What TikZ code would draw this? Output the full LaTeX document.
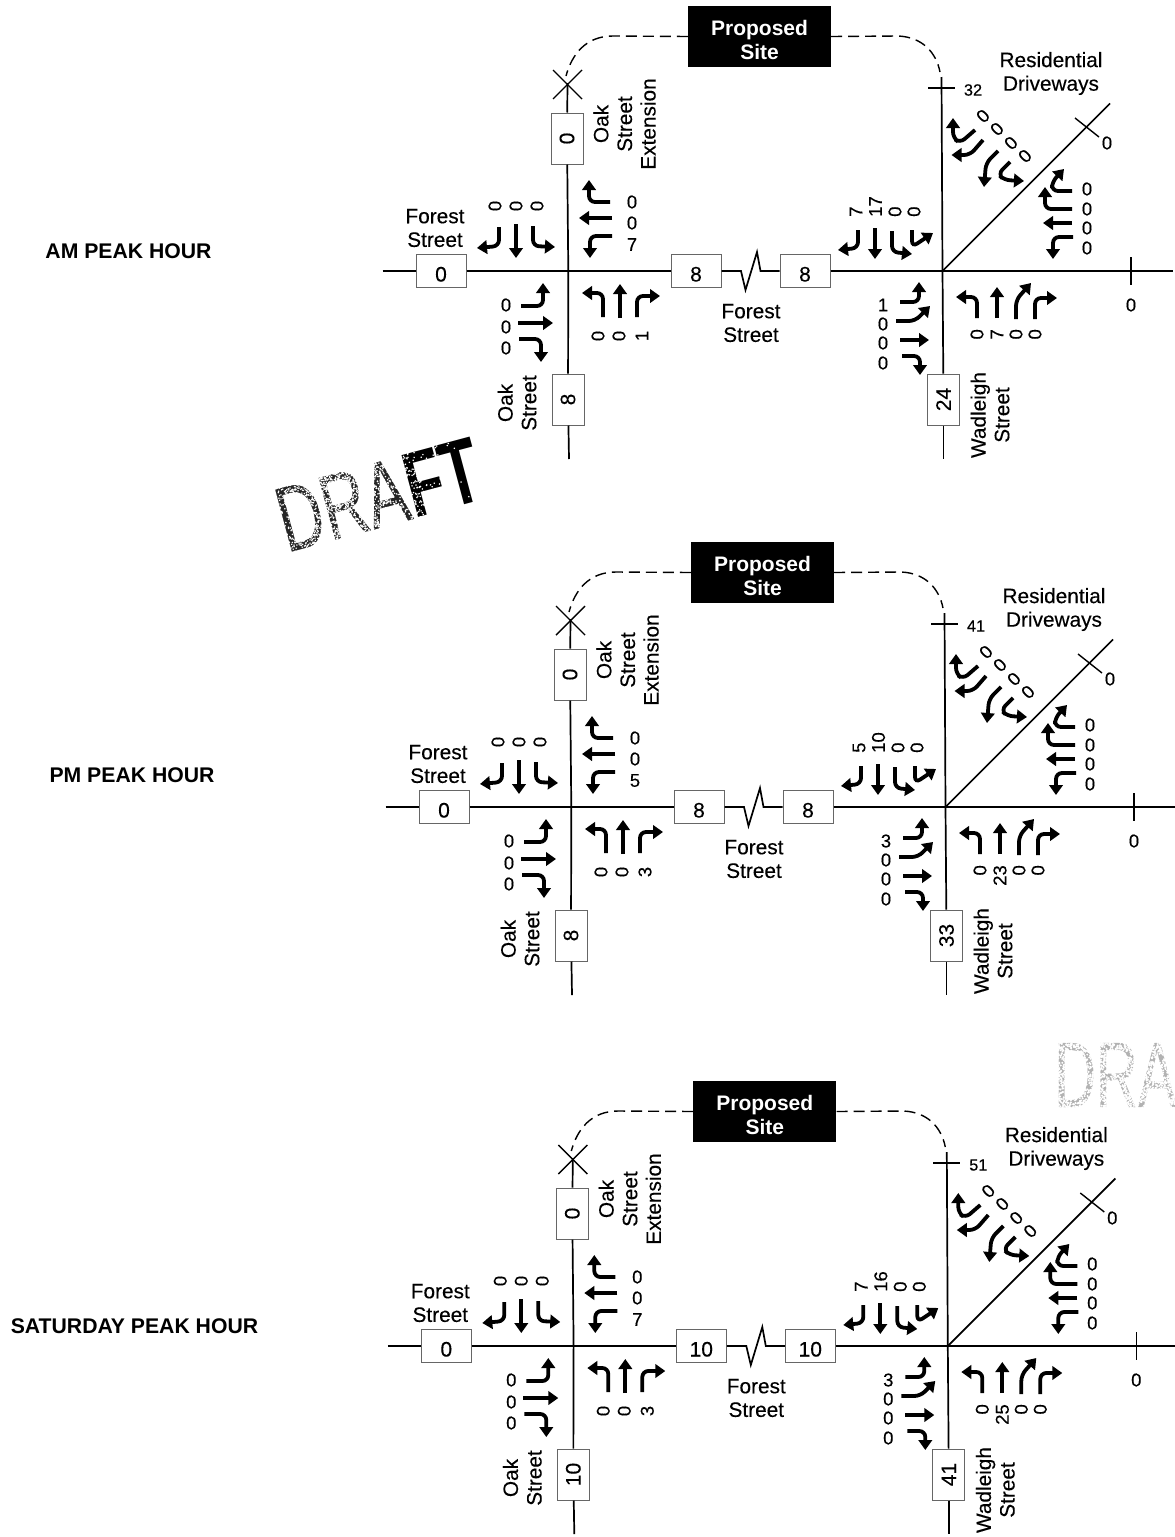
\documentclass[tikz,border=0pt]{standalone}
\usepackage{fontspec}
\setmainfont{Liberation Sans}[FakeBold=0.25,BoldFeatures={FakeBold=0}]
\usetikzlibrary{arrows.meta}
\tikzset{
  road/.style={line width=1.7pt,black},
  thin tick/.style={line width=1.4pt,black},
  site link/.style={line width=1.4pt,dash pattern=on 11pt off 6pt,black},
  mv/.style={line width=3.8pt,rounded corners=6pt,-{Triangle[length=10pt,width=13.5pt]}},
  hbox/.style={draw=black!60,line width=1pt,fill=white,minimum width=50pt,minimum height=33pt,inner sep=0pt,font=\fontsize{21}{24}\selectfont},
  vbox/.style={hbox,rotate=90,minimum width=51pt,minimum height=32pt},
  sitebox/.style={fill=black,text=white,minimum width=143pt,minimum height=61pt,inner sep=0pt,align=center,font=\bfseries\fontsize{21}{24}\selectfont},
  lab/.style={inner sep=0pt,align=center,font=\fontsize{20.8}{23.6}\selectfont},
  vlab/.style={lab,rotate=90},
  num/.style={inner sep=0pt,font=\fontsize{18.5}{20}\selectfont},
  rnum/.style={num,rotate=90},
  dnum/.style={num,rotate=45},
  smallnum/.style={inner sep=0pt,font=\fontsize{16.3}{20}\selectfont},
  peak/.style={inner sep=0pt,font=\bfseries\fontsize{21.2}{24}\selectfont},
  stamp/.style={inner sep=0pt,font=\fontsize{93}{100}\selectfont,xscale=.67},
}
\newcommand\boxnum[1]{\smash{\raisebox{-10.5pt}{#1}}}
% #1 prefix, #2 dx, #3 dy, #4 middle boxes, #5 Oak Street box, #6 Wadleigh box, #7 north tick, #8 east/north right-turn, #9 south/west count
\newcommand\panel[9]{%
\begin{scope}[shift={(#2,#3)},name prefix=#1-]
  \coordinate (iL) at (568.3,271);
  \coordinate (iR) at (942.5,271);
  \coordinate (wEnd) at (382.5,271);
  \coordinate (eEnd) at (1173,271);
  \coordinate (nL) at (567.5,83);
  \coordinate (sL) at (569,459);
  \coordinate (nR) at (941.5,77);
  \coordinate (sR) at (943.5,459);
  \coordinate (diagEnd) at (1110,103.5);
  \node[sitebox] (site) at (759.5,36.5) {\rule{0pt}{23pt}Proposed\\Site};
  \node[hbox] (bW) at (441,271) {\boxnum{0}};
  \node[hbox] (bM) at (696,271) {\boxnum{#4}};
  \node[hbox] (bE) at (805,271) {\boxnum{#4}};
  \node[vbox] (bN) at (567,138.5) {0};
  \node[vbox] (bS) at (568,399.5) {#5};
  \node[vbox] (bWad) at (943.5,399.5) {#6};
  % roads
  \draw[road] (wEnd) -- (bW);
  \draw[road] (bW) -- (iL) -- (bM);
  \draw[road] (bM) -- (741,271) -- (745.5,290) -- (757,252) -- (760.5,271) -- (bE);
  \draw[road] (bE) -- (iR) -- (eEnd);
  \draw[road] (nL) -- (bN);
  \draw[road] (bN) -- (iL) -- (bS);
  \draw[road] (bS) -- (sL);
  \draw[road] (nR) -- (iR) -- (bWad);
  \draw[road] (bWad) -- (sR);
  \draw[road] (iR) -- (diagEnd);
  % ticks
  \draw[thin tick] (553,70) -- (582,99);
  \draw[thin tick] (582,70) -- (553,99);
  \draw[thin tick] (928,88) -- (955,88);
  \draw[thin tick] (1075,118) -- (1099,137);
  \draw[thin tick] (1131,257) -- (1131,285);
  % site links
  \draw[site link] (site.west) -- (613,36) .. controls (586,36) and (572,54) .. (566,76);
  \draw[site link] (site.east) -- (898,36) .. controls (922,37) and (936,52) .. (940,72);
  % street labels
  \node[vlab] (oakExt) at (624.5,124) {Oak\\Street\\Extension};
  \node[lab] (forL) at (435,228) {Forest\\Street};
  \node[lab] (forM) at (751,323) {Forest\\Street};
  \node[vlab] (oak) at (517,403) {Oak\\Street};
  \node[vlab] (wad) at (990,415) {Wadleigh\\Street};
  \node[lab] (res) at (1051,73.5) {Residential\\Driveways};
  \node[smallnum] (tN) at (973,90) {#7};
  \node[num] (tD) at (1107,143) {0};
  \node[num] (tE) at (1131,305) {0};
  % Oak / Forest: north approach
  \draw[mv] (499,227) -- (499,246) -- (477,248);
  \draw[mv] (516,224) -- (516,258);
  \draw[mv] (533,226) -- (533,246) -- (555,247);
  \node[rnum] (a1) at (495,206) {0};
  \node[rnum] (a2) at (516,206) {0};
  \node[rnum] (a3) at (537,206) {0};
  % east approach
  \draw[mv] (610,202) -- (589,202) -- (589,180);
  \draw[mv] (612,218) -- (579,218);
  \draw[mv] (612,236) -- (590,236) -- (590,258);
  \node[num] (b1) at (632,202) {0};
  \node[num] (b2) at (632,223) {0};
  \node[num] (b3) at (632,244.5) {#8};
  % west approach
  \draw[mv] (521,306) -- (543,306) -- (543,283);
  \draw[mv] (518,323) -- (553,323);
  \draw[mv] (519,339) -- (541,339) -- (541,362);
  \node[num] (c1) at (506,305) {0};
  \node[num] (c2) at (506,327) {0};
  \node[num] (c3) at (506,348) {0};
  % south approach
  \draw[mv] (603,317) -- (603,293) -- (582,293);
  \draw[mv] (620,318) -- (620,284);
  \draw[mv] (637,317) -- (637,296) -- (660,296);
  \node[rnum] (d1) at (598,336) {0};
  \node[rnum] (d2) at (619,336) {0};
  \node[rnum] (d3) at (642,336) {#9};
  % Wadleigh / Forest: north approach
  \draw[mv] (858,230) -- (858,248) -- (838,250);
  \draw[mv] (875,228) -- (875,259);
  \draw[mv] (892,231) -- (892,252) -- (912,254);
  \draw[mv] (912,230) -- (912,247) -- (933,233);
  \node[rnum,anchor=west] (e1) at (856,217) {#8};
  \node[rnum,anchor=west] (e2) at (875.5,217) {\NThru};
  \node[rnum,anchor=west] (e3) at (895,217) {0};
  \node[rnum,anchor=west] (e4) at (914,217) {0};
  % west approach
  \draw[mv] (900,302) -- (919,302) -- (919,282);
  \draw[mv] (896,321) -- (915,321) -- (930,306);
  \draw[mv] (900,340) -- (929,340);
  \draw[mv] (902,356) -- (920,356) -- (920,375);
  \node[num] (f1) at (883,305) {#9};
  \node[num] (f2) at (883,324) {0};
  \node[num] (f3) at (883,343) {0};
  \node[num] (f4) at (883,363) {0};
  % south approach
  \draw[mv] (977,318) -- (977,297) -- (956,297);
  \draw[mv] (997,318) -- (997,287);
  \draw[mv] (1016,319) -- (1016,300) -- (1031,283);
  \draw[mv] (1035,319) -- (1035,298) -- (1057,298);
  \node[rnum,anchor=east] (g1) at (977,329) {0};
  \node[rnum,anchor=east] (g2) at (997,329) {\SThru};
  \node[rnum,anchor=east] (g3) at (1016,329) {0};
  \node[rnum,anchor=east] (g4) at (1035,329) {0};
  % east approach
  \draw[mv] (1072,191) -- (1052,191) -- (1052,182) -- (1064,169);
  \draw[mv] (1072,209) -- (1045,209) -- (1045,187);
  \draw[mv] (1072,223) -- (1043,223);
  \draw[mv] (1073,237) -- (1053,237) -- (1053,259);
  \node[num] (h1) at (1087,189) {0};
  \node[num] (h2) at (1087,209) {0};
  \node[num] (h3) at (1087,228) {0};
  \node[num] (h4) at (1087,248) {0};
  % driveway approach
  \draw[mv] (975,130) -- (960,143) -- (953,138) -- (953,118);
  \draw[mv] (983,140) -- (970,155) -- (951.5,155);
  \draw[mv] (998,151) -- (986,163) -- (984,187);
  \draw[mv] (1010,162) -- (998,174) -- (1004,180) -- (1024,181);
  \node[dnum] (k1) at (983,116) {0};
  \node[dnum] (k2) at (997,129) {0};
  \node[dnum] (k3) at (1011,143) {0};
  \node[dnum] (k4) at (1025,156) {0};
\end{scope}}
\begin{document}
\begin{tikzpicture}[x=1pt,y=-1pt]
  \clip (0,0) rectangle (1175,1537);
  \fill[white] (0,0) rectangle (1175,1537);
  % worn stamps: letters, then specks of white over them
  \pgfmathsetseed{7}
  \node[rotate=15,stamp] (draftA) at (379,495) {\textcolor{black!85}{DRA}{\bfseries\textcolor{black}{FT}}};
  \begin{scope}[shift={(379,495)},rotate=15]
    \foreach \i in {1,...,3200}{\fill[white] ({(0.4*rnd+0.6*rnd*rnd)*216-108},{(rnd-.5)*80}) circle (0.85);}
  \end{scope}
  \node[stamp,anchor=base west,xscale=.93,text=black!30] (draftB) at (1054,1107) {DRAFT};
  \foreach \i in {1,...,3000}{\fill[white] ({1048+rnd*127},{1032+rnd*80}) circle (1.1);}
  \node[peak] (am) at (128.5,251) {AM PEAK HOUR};
  \node[peak] (pm) at (132,775) {PM PEAK HOUR};
  \node[peak] (sat) at (134.5,1326) {SATURDAY PEAK HOUR};
  \def\NThru{17}\def\SThru{7}
  \panel{am}{0}{0}{8}{8}{24}{32}{7}{1}
  \def\NThru{10}\def\SThru{23}
  \panel{pm}{3}{536}{8}{8}{33}{41}{5}{3}
  \def\NThru{16}\def\SThru{25}
  \panel{sa}{5.3}{1075}{10}{10}{41}{51}{7}{3}
\end{tikzpicture}
\end{document}
